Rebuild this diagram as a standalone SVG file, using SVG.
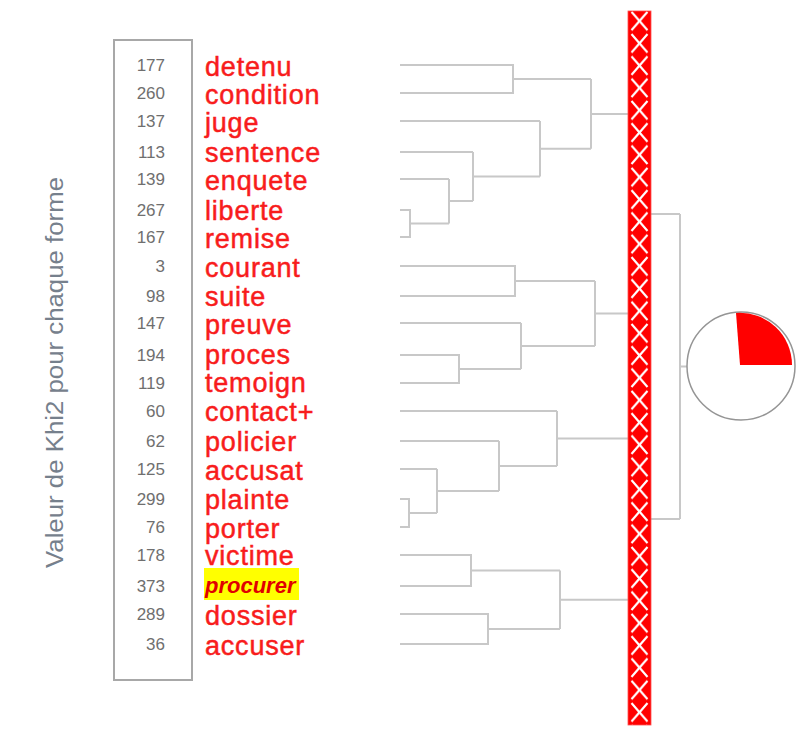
<svg xmlns="http://www.w3.org/2000/svg" width="801" height="740" viewBox="0 0 801 740">
<defs>
<style>
.num{font-family:"Liberation Sans",Arial,sans-serif;font-size:17px;fill:#6f6f6f;text-anchor:end}
.lab{font-family:"Liberation Sans",Arial,sans-serif;font-size:27px;fill:#f81c1c;stroke:#f81c1c;stroke-width:0.5;letter-spacing:0.8px}
.hl{font-family:"Liberation Sans",Arial,sans-serif;font-size:22px;font-weight:bold;font-style:italic;fill:#e00000}
.ax{font-family:"Liberation Sans",Arial,sans-serif;font-size:23px;fill:#76808c}
.den{fill:none;stroke:#c8c8c8;stroke-width:2}
</style>
<pattern id="xpat" patternUnits="userSpaceOnUse" x="628" y="32.15" width="23" height="22.3">
<rect width="23" height="22.3" fill="#ff0000"/>
<path d="M3.5 2 L19.5 20.3 M19.5 2 L3.5 20.3" stroke="#ffffff" stroke-width="2.2" fill="none"/>
<rect x="10" y="9.6" width="3" height="3" fill="#ffffff"/>
</pattern>
</defs>
<rect width="801" height="740" fill="#ffffff"/>

<g id="axis-title">
<text class="ax" transform="translate(63,372.5) rotate(-90)" text-anchor="middle" textLength="391" lengthAdjust="spacingAndGlyphs">Valeur de Khi2 pour chaque forme</text>
</g>

<g id="khi-box">
<rect x="114" y="40" width="78" height="640" fill="none" stroke="#a8a8a8" stroke-width="2"/>
</g>

<g id="row-detenu"><text class="num" x="165" y="71">177</text><text class="lab" x="205" y="76">detenu</text></g>
<g id="row-condition"><text class="num" x="165" y="99">260</text><text class="lab" x="205" y="104">condition</text></g>
<g id="row-juge"><text class="num" x="165" y="127">137</text><text class="lab" x="205" y="132">juge</text></g>
<g id="row-sentence"><text class="num" x="165" y="158">113</text><text class="lab" x="205" y="162">sentence</text></g>
<g id="row-enquete"><text class="num" x="165" y="185">139</text><text class="lab" x="205" y="190">enquete</text></g>
<g id="row-liberte"><text class="num" x="165" y="216">267</text><text class="lab" x="205" y="220">liberte</text></g>
<g id="row-remise"><text class="num" x="165" y="243">167</text><text class="lab" x="205" y="248">remise</text></g>
<g id="row-courant"><text class="num" x="165" y="272">3</text><text class="lab" x="205" y="277">courant</text></g>
<g id="row-suite"><text class="num" x="165" y="302">98</text><text class="lab" x="205" y="306">suite</text></g>
<g id="row-preuve"><text class="num" x="165" y="329">147</text><text class="lab" x="205" y="334">preuve</text></g>
<g id="row-proces"><text class="num" x="165" y="361">194</text><text class="lab" x="205" y="364">proces</text></g>
<g id="row-temoign"><text class="num" x="165" y="389">119</text><text class="lab" x="205" y="392">temoign</text></g>
<g id="row-contact"><text class="num" x="165" y="417">60</text><text class="lab" x="205" y="421">contact+</text></g>
<g id="row-policier"><text class="num" x="165" y="447">62</text><text class="lab" x="205" y="451">policier</text></g>
<g id="row-accusat"><text class="num" x="165" y="475">125</text><text class="lab" x="205" y="480">accusat</text></g>
<g id="row-plainte"><text class="num" x="165" y="505">299</text><text class="lab" x="205" y="509">plainte</text></g>
<g id="row-porter"><text class="num" x="165" y="533">76</text><text class="lab" x="205" y="538">porter</text></g>
<g id="row-victime"><text class="num" x="165" y="561">178</text><text class="lab" x="205" y="565">victime</text></g>
<g id="row-procurer"><text class="num" x="165" y="592">373</text><rect x="204" y="568" width="95" height="32" fill="#ffff00"/><text class="hl" x="205" y="593">procurer</text></g>
<g id="row-dossier"><text class="num" x="165" y="620">289</text><text class="lab" x="205" y="625">dossier</text></g>
<g id="row-accuser"><text class="num" x="165" y="650">36</text><text class="lab" x="205" y="655">accuser</text></g>

<g id="connectors" class="den">
<path d="M400 65 H513 V93 H400 M513 79 H591"/>
<path d="M400 121 H540"/>
<path d="M400 152 H473"/>
<path d="M400 179 H449"/>
<path d="M400 210 H410 V237 H400 M410 223.5 H449"/>
<path d="M449 179 V223.5 M449 201 H473"/>
<path d="M473 152 V201 M473 176.5 H540"/>
<path d="M540 121 V176.5 M540 148.75 H591"/>
<path d="M591 79 V148.75 M591 114 H628"/>
<path d="M400 266 H515 V296 H400 M515 281 H595"/>
<path d="M400 323 H521"/>
<path d="M400 355 H459 V383 H400 M459 369 H521"/>
<path d="M521 323 V369 M521 346 H595"/>
<path d="M595 281 V346 M595 313.5 H628"/>
<path d="M400 411 H557"/>
<path d="M400 441 H499"/>
<path d="M400 469 H437"/>
<path d="M400 499 H409 V527 H400 M409 513 H437"/>
<path d="M437 469 V513 M437 491 H499"/>
<path d="M499 441 V491 M499 466 H557"/>
<path d="M557 411 V466 M557 438.5 H628"/>
<path d="M400 555 H471 V586 H400 M471 570.5 H560"/>
<path d="M400 614 H488 V644 H400 M488 629 H560"/>
<path d="M560 570.5 V629 M560 599.75 H628"/>
<path d="M651 214 H680 M651 519 H680 M680 214 V519 M680 366.5 H687"/>
</g>

<g id="bar">
<rect x="628" y="11" width="23" height="714" fill="url(#xpat)" stroke="#ff5050" stroke-width="0.8"/>
</g>

<g id="pie">
<circle cx="741" cy="366" r="54" fill="#ffffff" stroke="#959595" stroke-width="1.5"/>
<path d="M740 365 L736 313 A52 52 0 0 1 792 365 Z" fill="#ff0000"/>
</g>
</svg>
